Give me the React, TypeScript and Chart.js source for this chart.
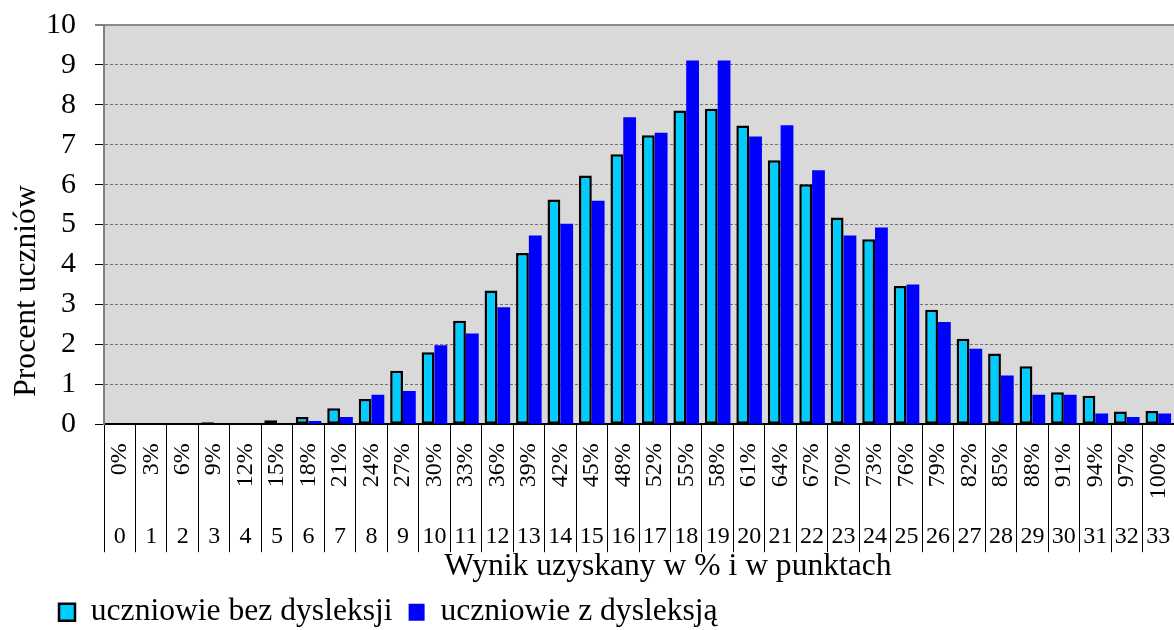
import React, { useEffect, useRef } from 'react';
import { Chart, registerables } from 'chart.js';

Chart.register(...registerables);

const percentLabels = ['0%', '3%', '6%', '9%', '12%', '15%', '18%', '21%', '24%', '27%', '30%', '33%', '36%', '39%', '42%', '45%', '48%', '52%', '55%', '58%', '61%', '64%', '67%', '70%', '73%', '76%', '79%', '82%', '85%', '88%', '91%', '94%', '97%', '100%'];
const pointLabels = ['0', '1', '2', '3', '4', '5', '6', '7', '8', '9', '10', '11', '12', '13', '14', '15', '16', '17', '18', '19', '20', '21', '22', '23', '24', '25', '26', '27', '28', '29', '30', '31', '32', '33'];
const withoutDyslexia = [0, 0, 0, 0.05, 0, 0.1, 0.18, 0.4, 0.63, 1.34, 1.8, 2.59, 3.35, 4.29, 5.63, 6.23, 6.76, 7.24, 7.86, 7.9, 7.48, 6.61, 6.01, 5.18, 4.63, 3.46, 2.87, 2.14, 1.77, 1.45, 0.8, 0.71, 0.32, 0.33];
const withDyslexia = [0, 0, 0, 0, 0, 0, 0.08, 0.18, 0.74, 0.83, 1.98, 2.27, 2.93, 4.73, 5.02, 5.6, 7.69, 7.3, 9.11, 9.11, 7.21, 7.49, 6.36, 4.73, 4.93, 3.5, 2.56, 1.89, 1.22, 0.74, 0.74, 0.27, 0.18, 0.27];
const seriesNames = ['uczniowie bez dysleksji', 'uczniowie z dysleksją'];
const xTitle = 'Wynik uzyskany w % i w punktach';
const yTitle = 'Procent uczniów';

const SERIF = "'Liberation Serif', 'Times New Roman', serif";

const plotBackground = {
  id: 'plotBackground',
  beforeDraw(chart: any) {
    const { ctx, chartArea: a } = chart;
    ctx.save();
    ctx.fillStyle = '#d9d9d9';
    ctx.fillRect(a.left, a.top, a.right - a.left, a.bottom - a.top);
    ctx.restore();
  },
};

const axisTitles = {
  id: 'axisTitles',
  afterDraw(chart: any) {
    const { ctx, chartArea: a } = chart;
    ctx.save();
    ctx.fillStyle = '#000';
    ctx.font = `31.6px ${SERIF}`;
    ctx.textAlign = 'center';
    ctx.textBaseline = 'alphabetic';
    ctx.fillText(xTitle, (a.left + a.right) / 2 + 29, a.bottom + 151);
    ctx.translate(a.left - 69, a.top + 266);
    ctx.rotate(-Math.PI / 2);
    ctx.fillText(yTitle, 0, 0);
    ctx.restore();
  },
};

export default function App() {
  const ref = useRef<HTMLCanvasElement>(null);

  useEffect(() => {
    const canvas = ref.current;
    if (!canvas) return;
    const tickFont = { family: SERIF, size: 24 };
    const chart = new Chart(canvas, {
      type: 'bar',
      data: {
        labels: percentLabels,
        datasets: [
          {
            label: seriesNames[0],
            data: withoutDyslexia,
            backgroundColor: '#00ccff',
            borderColor: '#000000',
            borderWidth: 2.5,
            borderSkipped: false,
            categoryPercentage: 0.813,
            barPercentage: 1,
            xAxisID: 'x',
            yAxisID: 'y',
          },
          {
            label: seriesNames[1],
            data: withDyslexia,
            backgroundColor: '#0000ff',
            borderColor: '#0000ff',
            borderWidth: 0,
            categoryPercentage: 0.813,
            barPercentage: 1,
            xAxisID: 'x',
            yAxisID: 'y',
          },
        ],
      },
      options: {
        responsive: false,
        devicePixelRatio: 1,
        animation: false,
        events: [],
        layout: { padding: { left: 43, top: 25, right: 0, bottom: -8 } },
        scales: {
          x: {
            type: 'category',
            position: 'bottom',
            weight: 0,
            offset: true,
            grid: {
              display: true,
              offset: true,
              drawOnChartArea: false,
              drawTicks: true,
              tickLength: 78,
              tickColor: '#000',
              tickWidth: 1,
              color: '#000',
            },
            border: { display: true, color: '#000', width: 2 },
            ticks: {
              autoSkip: false,
              minRotation: 90,
              maxRotation: 90,
              padding: -59,
              font: tickFont,
              color: '#000',
            },
            afterFit: (s: any) => {
              s.height = 78;
            },
          },
          x2: {
            type: 'category',
            position: 'bottom',
            weight: 1,
            labels: pointLabels,
            offset: true,
            grid: {
              display: true,
              offset: true,
              drawOnChartArea: false,
              drawTicks: true,
              tickLength: 50,
              tickColor: '#000',
              tickWidth: 1,
              color: '#000',
            },
            border: { display: false },
            ticks: {
              autoSkip: false,
              minRotation: 0,
              maxRotation: 0,
              padding: -30,
              font: tickFont,
              color: '#000',
            },
            afterFit: (s: any) => {
              s.height = 78.2;
            },
          },
          y: {
            min: 0,
            max: 10,
            ticks: {
              stepSize: 1,
              autoSkip: false,
              padding: 19,
              font: { family: SERIF, size: 30 },
              color: '#000',
            },
            grid: {
              color: (c: any) => (c.tick && c.tick.value === 0 ? 'rgba(0,0,0,0)' : c.tick && c.tick.value === 10 ? '#8a8a8a' : '#707070'),
              lineWidth: (c: any) => (c.tick && c.tick.value === 10 ? 2 : 1),
              tickColor: '#000',
              tickLength: 9,
              tickWidth: 1,
            },
            border: {
              display: true,
              color: '#808080',
              width: 2,
              dash: (c: any) => (c.tick && c.tick.value === 10 ? [] : [3, 2]),
            },
            afterFit: (s: any) => {
              s.width = 61;
              s.paddingTop = 15;
              s.paddingBottom = 15;
            },
          },
        },
        plugins: {
          legend: {
            position: 'bottom',
            align: 'start',
            labels: {
              boxWidth: 16,
              boxHeight: 17,
              padding: 16,
              color: '#000',
              font: { family: SERIF, size: 31.6 },
            },
          },
          tooltip: { enabled: false },
        },
      },
      plugins: [plotBackground, axisTitles],
    } as any);
    return () => chart.destroy();
  }, []);

  return (
    <div style={{ position: 'fixed', left: 0, top: 0, width: 1174, height: 630, background: '#fff' }}>
      <canvas ref={ref} width={1174} height={630} style={{ display: 'block' }} />
    </div>
  );
}
